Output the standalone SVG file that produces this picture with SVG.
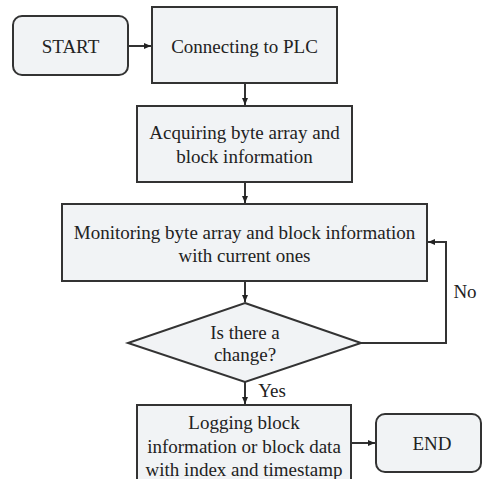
<svg xmlns="http://www.w3.org/2000/svg" width="483" height="479" viewBox="0 0 483 479">
<style>
.box{fill:#f1f3f5;stroke:#333;stroke-width:2}
.t{font-family:"Liberation Serif","Times New Roman",serif;font-size:19px;fill:#222;text-anchor:middle}
.c{fill:none;stroke:#333;stroke-width:2}
</style>
<defs>
<marker id="ah" markerWidth="8" markerHeight="8" refX="7" refY="4" orient="auto" markerUnits="userSpaceOnUse">
<path d="M0,1 L7,4 L0,7 Z" fill="#222"/>
</marker>
</defs>
<rect width="483" height="479" fill="#fff"/>
<g id="start">
<rect class="box" x="13" y="16" width="115" height="59" rx="9"/>
<text class="t" x="70.5" y="53">START</text>
</g>
<g id="connect">
<rect class="box" x="152" y="7" width="185" height="76"/>
<text class="t" x="244.5" y="53">Connecting to PLC</text>
</g>
<g id="acquire">
<rect class="box" x="137" y="106" width="215" height="76"/>
<text class="t" x="244.5" y="139">Acquiring byte array and</text>
<text class="t" x="244.5" y="163">block information</text>
</g>
<g id="monitor">
<rect class="box" x="62" y="204" width="365" height="77"/>
<text class="t" x="244.5" y="239">Monitoring byte array and block information</text>
<text class="t" x="244.5" y="262">with current ones</text>
</g>
<g id="decision">
<polygon class="box" points="245,303 361,343 245,382 128,343"/>
<text class="t" x="245" y="339">Is there a</text>
<text class="t" x="245" y="361">change?</text>
</g>
<g id="log">
<rect class="box" x="137" y="405" width="214" height="85"/>
<text class="t" x="244" y="429">Logging block</text>
<text class="t" x="244" y="453">information or block data</text>
<text class="t" x="244" y="476">with index and timestamp</text>
</g>
<g id="end">
<rect class="box" x="376" y="414" width="105" height="58" rx="9"/>
<text class="t" x="432" y="450">END</text>
</g>
<g id="connectors">
<line class="c" x1="128" y1="46" x2="151" y2="46" marker-end="url(#ah)"/>
<line class="c" x1="245" y1="83" x2="245" y2="105" marker-end="url(#ah)"/>
<line class="c" x1="245" y1="182" x2="245" y2="203" marker-end="url(#ah)"/>
<line class="c" x1="245" y1="281" x2="245" y2="302" marker-end="url(#ah)"/>
<line class="c" x1="245" y1="382" x2="245" y2="404" marker-end="url(#ah)"/>
<polyline class="c" points="361,343 446,343 446,242 428,242" marker-end="url(#ah)"/>
<line class="c" x1="351" y1="443" x2="375" y2="443" marker-end="url(#ah)"/>
<text class="t" x="465" y="298">No</text>
<text class="t" x="272" y="397">Yes</text>
</g>
</svg>
